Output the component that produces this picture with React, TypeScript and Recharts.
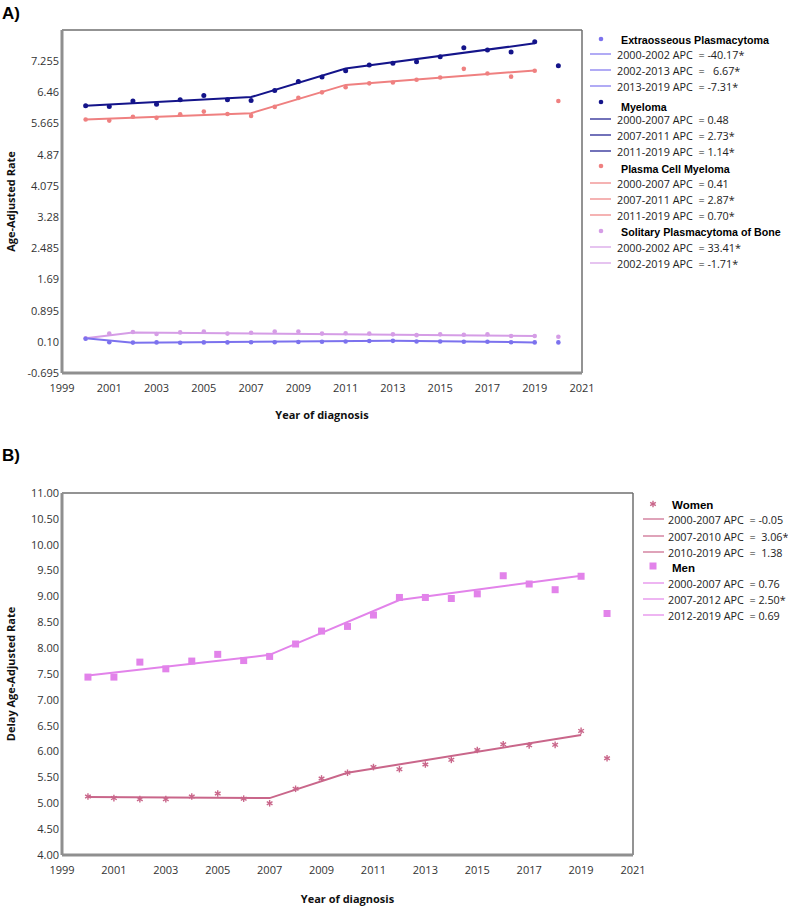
import React from 'react';
import { LineChart, Line, XAxis, YAxis, ReferenceLine } from 'recharts';

// ---------- Data ----------
const years = [2000, 2001, 2002, 2003, 2004, 2005, 2006, 2007, 2008, 2009, 2010, 2011, 2012, 2013, 2014, 2015, 2016, 2017, 2018, 2019, 2020];

// Panel A observed
const myelomaObs = [6.12, 6.10, 6.24, 6.16, 6.27, 6.38, 6.27, 6.25, 6.51, 6.74, 6.85, 7.01, 7.16, 7.20, 7.24, 7.37, 7.60, 7.54, 7.49, 7.75, 7.14];
const pcmObs = [5.77, 5.74, 5.84, 5.81, 5.90, 5.97, 5.91, 5.86, 6.09, 6.32, 6.46, 6.59, 6.69, 6.71, 6.78, 6.84, 7.06, 6.94, 6.86, 7.01, 6.24];
const extraObs = [0.18, 0.09, 0.08, 0.085, 0.075, 0.085, 0.085, 0.09, 0.09, 0.095, 0.10, 0.11, 0.12, 0.125, 0.11, 0.11, 0.10, 0.10, 0.09, 0.085, 0.085];
const solitaryObs = [0.19, 0.31, 0.35, 0.30, 0.34, 0.36, 0.31, 0.33, 0.36, 0.36, 0.31, 0.32, 0.31, 0.29, 0.27, 0.29, 0.28, 0.29, 0.25, 0.25, 0.23];

// Panel A joinpoint fits
const myelomaFitYears = [2000, 2007, 2011, 2019];
const myelomaFitVals = [6.12, 6.34, 7.07, 7.71];
const pcmFitYears = [2000, 2007, 2011, 2019];
const pcmFitVals = [5.77, 5.93, 6.65, 7.02];
const extraFitYears = [2000, 2002, 2013, 2019];
const extraFitVals = [0.19, 0.075, 0.13, 0.085];
const solitaryFitYears = [2000, 2002, 2019];
const solitaryFitVals = [0.19, 0.34, 0.25];

// Panel B observed
const womenObs = [5.13, 5.10, 5.08, 5.08, 5.13, 5.19, 5.09, 5.00, 5.28, 5.48, 5.59, 5.70, 5.66, 5.75, 5.84, 6.03, 6.14, 6.12, 6.13, 6.40, 5.87];
const menObs = [7.44, 7.44, 7.73, 7.60, 7.75, 7.88, 7.76, 7.84, 8.08, 8.33, 8.42, 8.64, 8.98, 8.98, 8.96, 9.05, 9.40, 9.24, 9.13, 9.39, 8.67];

// Panel B joinpoint fits
const womenFitYears = [2000, 2007, 2010, 2019];
const womenFitVals = [5.12, 5.10, 5.59, 6.32];
const menFitYears = [2000, 2007, 2012, 2019];
const menFitVals = [7.47, 7.87, 8.93, 9.40];

// Ticks
const xTicks = [1999, 2001, 2003, 2005, 2007, 2009, 2011, 2013, 2015, 2017, 2019, 2021];
const topYTicks = [-0.695, 0.10, 0.895, 1.69, 2.485, 3.28, 4.075, 4.87, 5.665, 6.46, 7.255];
const topYTickLabels = ['-0.695', '0.10', '0.895', '1.69', '2.485', '3.28', '4.075', '4.87', '5.665', '6.46', '7.255'];
const topYDomain = [-0.695, 8.05];
const botYTicks = [4.0, 4.5, 5.0, 5.5, 6.0, 6.5, 7.0, 7.5, 8.0, 8.5, 9.0, 9.5, 10.0, 10.5, 11.0];
const botYTickLabels = ['4.00', '4.50', '5.00', '5.50', '6.00', '6.50', '7.00', '7.50', '8.00', '8.50', '9.00', '9.50', '10.00', '10.50', '11.00'];
const botYDomain = [4, 11];

// Legend texts
const legendA = [
  { title: 'Extraosseous Plasmacytoma', rows: ['2000-2002 APC  = -40.17*', '2002-2013 APC  =   6.67*', '2013-2019 APC  = -7.31*'] },
  { title: 'Myeloma', rows: ['2000-2007 APC  = 0.48', '2007-2011 APC  = 2.73*', '2011-2019 APC  = 1.14*'] },
  { title: 'Plasma Cell Myeloma', rows: ['2000-2007 APC  = 0.41', '2007-2011 APC  = 2.87*', '2011-2019 APC  = 0.70*'] },
  { title: 'Solitary Plasmacytoma of Bone', rows: ['2000-2002 APC  = 33.41*', '2002-2019 APC  = -1.71*'] },
];
const legendB = [
  { title: 'Women', rows: ['2000-2007 APC  = -0.05', '2007-2010 APC  =  3.06*', '2010-2019 APC  =  1.38'] },
  { title: 'Men', rows: ['2000-2007 APC  = 0.76', '2007-2012 APC  = 2.50*', '2012-2019 APC  = 0.69'] },
];

// ---------- Styles ----------
const C_EXTRA = '#7c72ee';
const C_MYEL = '#14148a';
const C_PCM = '#ef8080';
const C_SOL = '#d59de6';
const C_WOMEN = '#c9668a';
const C_MEN = '#e283ea';
const AXIS = '#8f8f8f';
const FRAME = '#6f6f6f';
const FONT = '"Segoe UI", "Open Sans", "Noto Sans", sans-serif';
const BOLD = '"Liberation Sans", Arial, sans-serif';

type S = { key: string; obs: number[]; fitYears: number[]; fitVals: number[] };
function buildRows(series: S[]) {
  return years.map((y, i) => {
    const row: any = { year: y };
    series.forEach((s) => {
      row[s.key + 'Obs'] = s.obs[i];
      const j = s.fitYears.indexOf(y);
      row[s.key + 'Fit'] = j >= 0 ? s.fitVals[j] : null;
    });
    return row;
  });
}

const rowsA = buildRows([
  { key: 'my', obs: myelomaObs, fitYears: myelomaFitYears, fitVals: myelomaFitVals },
  { key: 'pcm', obs: pcmObs, fitYears: pcmFitYears, fitVals: pcmFitVals },
  { key: 'ex', obs: extraObs, fitYears: extraFitYears, fitVals: extraFitVals },
  { key: 'sol', obs: solitaryObs, fitYears: solitaryFitYears, fitVals: solitaryFitVals },
]);
const rowsB = buildRows([
  { key: 'w', obs: womenObs, fitYears: womenFitYears, fitVals: womenFitVals },
  { key: 'm', obs: menObs, fitYears: menFitYears, fitVals: menFitVals },
]);

const lookup = (ticks: number[], labels: string[]) => (v: number) => {
  const i = ticks.findIndex((t) => Math.abs(t - v) < 1e-6);
  return i >= 0 ? labels[i] : String(v);
};

const tickStyle = { fill: '#333', fontSize: 11, fontFamily: FONT };
const axisTitleStyle = { fill: '#111', fontSize: 11, fontWeight: 700, fontFamily: FONT };

const Asterisk = ({ cx, cy, color }: { cx: number; cy: number; color: string }) => {
  const r = 3.3;
  const segs = [0, 60, 120].map((a) => {
    const rad = ((a + 90) * Math.PI) / 180;
    return [cx - r * Math.cos(rad), cy - r * Math.sin(rad), cx + r * Math.cos(rad), cy + r * Math.sin(rad)];
  });
  return (
    <g>
      {segs.map((s, k) => (
        <line key={k} x1={s[0]} y1={s[1]} x2={s[2]} y2={s[3]} stroke={color} strokeWidth={1.4} />
      ))}
    </g>
  );
};

const womenDot = (p: any) =>
  p.cy == null || p.value == null ? <g key={`w${p.index}`} /> : <Asterisk key={`w${p.index}`} cx={p.cx} cy={p.cy} color={C_WOMEN} />;
const menDot = (p: any) =>
  p.cy == null || p.value == null ? (
    <g key={`m${p.index}`} />
  ) : (
    <rect key={`m${p.index}`} x={p.cx - 3.5} y={p.cy - 3.5} width={7} height={7} fill={C_MEN} />
  );

const fitLine = (key: string, color: string) => (
  <Line
    key={key}
    dataKey={key}
    stroke={color}
    strokeWidth={2}
    connectNulls
    dot={false}
    activeDot={false}
    isAnimationActive={false}
  />
);
const obsLine = (key: string, color: string, r: number) => (
  <Line
    key={key}
    dataKey={key}
    stroke="none"
    strokeWidth={0}
    dot={{ r, fill: color, stroke: color, strokeWidth: 0 }}
    activeDot={false}
    isAnimationActive={false}
  />
);

function LegendBlock({
  x0,
  textDx,
  titleSize,
  rowSize,
  groups,
}: {
  x0: number;
  textDx: number;
  titleSize: number;
  rowSize: number;
  groups: { title: string; rows: string[]; color: string; marker: 'dot' | 'star' | 'square'; markerY: number; titleY: number; rowYs: number[] }[];
}) {
  return (
    <g>
      {groups.map((g, gi) => (
        <g key={gi}>
          {g.marker === 'dot' && <circle cx={x0 + 11} cy={g.markerY} r={2.3} fill={g.color} />}
          {g.marker === 'star' && <Asterisk cx={x0 + 10} cy={g.markerY} color={g.color} />}
          {g.marker === 'square' && <rect x={x0 + 6.5} y={g.markerY - 3.5} width={7} height={7} fill={g.color} />}
          <text x={x0 + textDx + 4} y={g.titleY} dominantBaseline="central" fontFamily={BOLD} fontWeight={700} fontSize={titleSize} fill="#000">
            {g.title}
          </text>
          {g.rows.map((r, ri) => (
            <g key={ri}>
              <line x1={x0} x2={x0 + 21} y1={g.rowYs[ri]} y2={g.rowYs[ri]} stroke={g.color} strokeWidth={1.2} />
              <text
                x={x0 + textDx}
                y={g.rowYs[ri]}
                dominantBaseline="central"
                fontFamily={FONT}
                fontSize={rowSize}
                fill="#222"
                xmlSpace="preserve"
                style={{ whiteSpace: 'pre' }}
              >
                {r}
              </text>
            </g>
          ))}
        </g>
      ))}
    </g>
  );
}

export default function App() {
  return (
    <div style={{ position: 'absolute', left: 0, top: 0, width: 788, height: 910, background: '#fff' }}>
      {/* Panel A */}
      <div style={{ position: 'absolute', left: 0, top: 0 }}>
        <LineChart width={788} height={430} data={rowsA} margin={{ top: 30, right: 206, bottom: 11, left: 0 }}>
          <XAxis
            dataKey="year"
            type="number"
            domain={[1999, 2021]}
            ticks={xTicks}
            interval={0}
            tickLine={false}
            tickSize={0}
            tickMargin={11}
            axisLine={{ stroke: AXIS, strokeWidth: 3 }}
            height={46}
            tick={tickStyle}
            label={{ value: 'Year of diagnosis', position: 'insideBottom', offset: 0, style: axisTitleStyle }}
          />
          <YAxis
            type="number"
            domain={topYDomain}
            ticks={topYTicks}
            interval={0}
            tickLine={false}
            tickSize={0}
            tickMargin={3}
            width={62}
            axisLine={{ stroke: AXIS, strokeWidth: 3 }}
            tick={tickStyle}
            tickFormatter={lookup(topYTicks, topYTickLabels)}
            label={{ value: 'Age-Adjusted Rate', angle: -90, position: 'insideLeft', offset: 11, style: { ...axisTitleStyle, textAnchor: 'middle' } }}
          />
          <ReferenceLine y={8.05} stroke={FRAME} strokeWidth={1.5} />
          <ReferenceLine x={2021} stroke={FRAME} strokeWidth={1.5} />
          {fitLine('solFit', C_SOL)}
          {fitLine('exFit', C_EXTRA)}
          {fitLine('pcmFit', C_PCM)}
          {fitLine('myFit', C_MYEL)}
          {obsLine('solObs', C_SOL, 2.3)}
          {obsLine('exObs', C_EXTRA, 2.3)}
          {obsLine('pcmObs', C_PCM, 2.3)}
          {obsLine('myObs', C_MYEL, 2.5)}
        </LineChart>
      </div>

      {/* Panel B */}
      <div style={{ position: 'absolute', left: 0, top: 440 }}>
        <LineChart width={788} height={470} data={rowsB} margin={{ top: 53, right: 155, bottom: 7, left: 0 }}>
          <XAxis
            dataKey="year"
            type="number"
            domain={[1999, 2021]}
            ticks={xTicks}
            interval={0}
            tickLine={false}
            tickSize={0}
            tickMargin={11}
            axisLine={{ stroke: AXIS, strokeWidth: 3 }}
            height={48}
            tick={tickStyle}
            label={{ value: 'Year of diagnosis', position: 'insideBottom', offset: 0, style: axisTitleStyle }}
          />
          <YAxis
            type="number"
            domain={botYDomain}
            ticks={botYTicks}
            interval={0}
            tickLine={false}
            tickSize={0}
            tickMargin={3}
            width={62}
            axisLine={{ stroke: AXIS, strokeWidth: 3 }}
            tick={tickStyle}
            tickFormatter={lookup(botYTicks, botYTickLabels)}
            label={{ value: 'Delay Age-Adjusted Rate', angle: -90, position: 'insideLeft', offset: 11, style: { ...axisTitleStyle, textAnchor: 'middle' } }}
          />
          <ReferenceLine y={11} stroke={FRAME} strokeWidth={1.5} />
          <ReferenceLine x={2021} stroke={FRAME} strokeWidth={1.5} />
          {fitLine('mFit', C_MEN)}
          {fitLine('wFit', C_WOMEN)}
          <Line dataKey="mObs" stroke="none" strokeWidth={0} dot={menDot} activeDot={false} isAnimationActive={false} />
          <Line dataKey="wObs" stroke="none" strokeWidth={0} dot={womenDot} activeDot={false} isAnimationActive={false} />
        </LineChart>
      </div>

      {/* Panel labels and legends */}
      <svg width={788} height={910} style={{ position: 'absolute', left: 0, top: 0, pointerEvents: 'none' }}>
        <text x={2} y={13} dominantBaseline="central" fontFamily={BOLD} fontWeight={700} fontSize={17} fill="#000">A)</text>
        <text x={2} y={455} dominantBaseline="central" fontFamily={BOLD} fontWeight={700} fontSize={17} fill="#000">B)</text>
        <LegendBlock
          x0={590}
          textDx={27}
          titleSize={10.7}
          rowSize={10.8}
          groups={[
            { ...legendA[0], color: C_EXTRA, marker: 'dot', markerY: 39, titleY: 40, rowYs: [54, 70, 86] },
            { ...legendA[1], color: C_MYEL, marker: 'dot', markerY: 102, titleY: 107, rowYs: [119, 135, 151] },
            { ...legendA[2], color: C_PCM, marker: 'dot', markerY: 166, titleY: 169, rowYs: [183, 199, 215] },
            { ...legendA[3], color: C_SOL, marker: 'dot', markerY: 231, titleY: 232, rowYs: [247, 263] },
          ]}
        />
        <LegendBlock
          x0={643}
          textDx={25}
          titleSize={11.5}
          rowSize={10.8}
          groups={[
            { ...legendB[0], color: C_WOMEN, marker: 'star', markerY: 504, titleY: 505, rowYs: [519, 536, 552] },
            { ...legendB[1], color: C_MEN, marker: 'square', markerY: 566, titleY: 568, rowYs: [583, 599, 615] },
          ]}
        />
      </svg>
    </div>
  );
}
